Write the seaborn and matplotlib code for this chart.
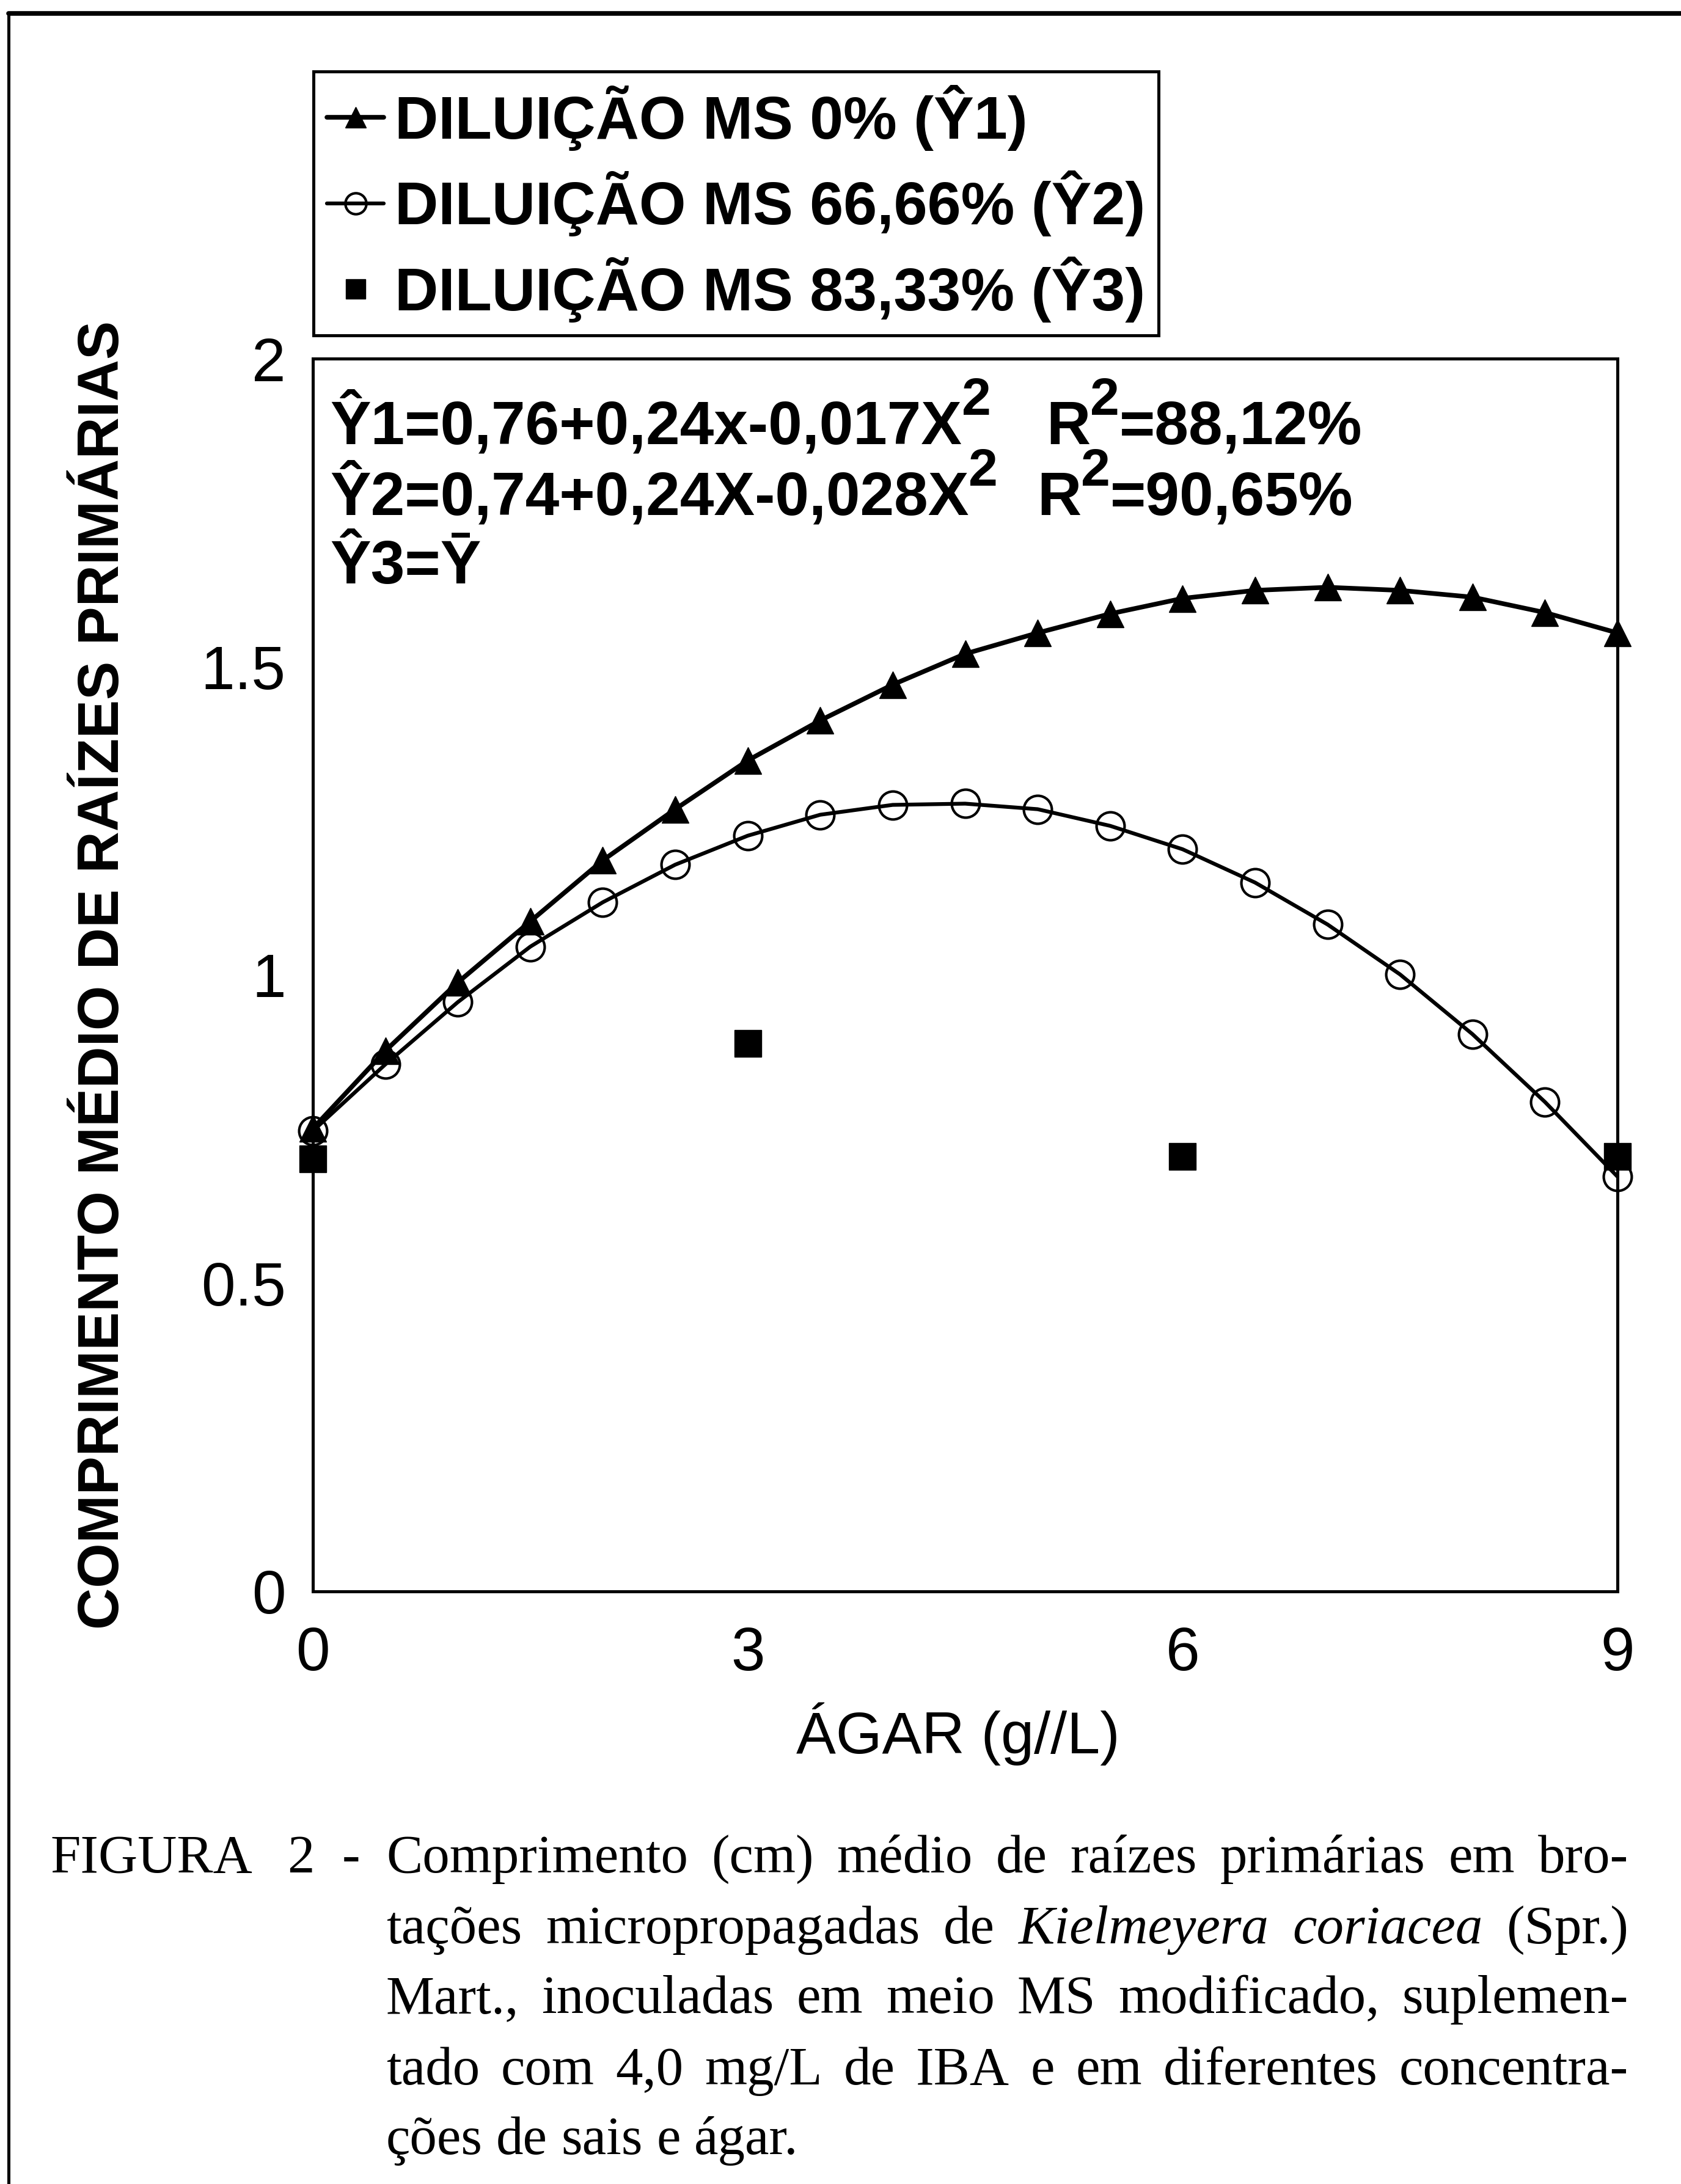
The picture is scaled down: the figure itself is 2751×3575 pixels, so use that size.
import numpy as np
import pandas as pd
import matplotlib
matplotlib.use("Agg")
import matplotlib.pyplot as plt
import matplotlib.transforms as mtransforms
from matplotlib.lines import Line2D
import seaborn as sns

# ---------------- data ----------------
agar = [0, 0.5, 1, 1.5, 2, 2.5, 3, 3.5, 4, 4.5, 5, 5.5, 6, 6.5, 7, 7.5, 8, 8.5, 9]
y1_ms0 = [0.751, 0.877, 0.988, 1.087, 1.186, 1.269, 1.348, 1.413, 1.471, 1.521,
          1.555, 1.586, 1.611, 1.624, 1.629, 1.624, 1.613, 1.588, 1.555]
y2_ms6666 = [0.747, 0.855, 0.956, 1.046, 1.118, 1.179, 1.226, 1.260, 1.276, 1.278,
             1.269, 1.242, 1.204, 1.150, 1.082, 1.001, 0.904, 0.794, 0.673]
agar_y3 = [0, 3, 6, 9]
y3_ms8333 = [0.702, 0.889, 0.706, 0.706]

series_labels = ["DILUIÇÃO MS 0% (Ŷ1)", "DILUIÇÃO MS 66,66% (Ŷ2)", "DILUIÇÃO MS 83,33% (Ŷ3)"]
xticks = [0, 3, 6, 9]
yticks = [0, 0.5, 1, 1.5, 2]
ytick_labels = ["0", "0.5", "1", "1.5", "2"]
xlabel = "ÁGAR (g//L)"
ylabel = "COMPRIMENTO MÉDIO DE RAÍZES PRIMÁRIAS"
# equation pieces: (text, is_superscript)
eq1 = [("Ŷ1=0,76+0,24x-0,017X", False), ("2", True)]
r1 = [("R", False), ("2", True), ("=88,12%", False)]
eq2 = [("Ŷ2=0,74+0,24X-0,028X", False), ("2", True)]
r2 = [("R", False), ("2", True), ("=90,65%", False)]
eq3 = [("Ŷ3=Ȳ", False)]

caption_prefix = ["FIGURA", "2", "-"]
caption_lines = [
    [("Comprimento", "normal"), ("(cm)", "normal"), ("médio", "normal"), ("de", "normal"),
     ("raízes", "normal"), ("primárias", "normal"), ("em", "normal"), ("bro-", "normal")],
    [("tações", "normal"), ("micropropagadas", "normal"), ("de", "normal"),
     ("Kielmeyera", "italic"), ("coriacea", "italic"), ("(Spr.)", "normal")],
    [("Mart.,", "normal"), ("inoculadas", "normal"), ("em", "normal"), ("meio", "normal"),
     ("MS", "normal"), ("modificado,", "normal"), ("suplemen-", "normal")],
    [("tado", "normal"), ("com", "normal"), ("4,0", "normal"), ("mg/L", "normal"), ("de", "normal"),
     ("IBA", "normal"), ("e", "normal"), ("em", "normal"), ("diferentes", "normal"),
     ("concentra-", "normal")],
    [("ções", "normal"), ("de", "normal"), ("sais", "normal"), ("e", "normal"), ("ágar.", "normal")],
]

# ---------------- style ----------------
sns.set_theme(style="white")
SANS = ["Liberation Sans", "DejaVu Sans"]
plt.rcParams["font.family"] = SANS
plt.rcParams["text.color"] = "black"

W, H, DPI = 2751, 3575, 100
fig = plt.figure(figsize=(W / DPI, H / DPI), dpi=DPI)
fig.patch.set_facecolor("white")
ident = mtransforms.IdentityTransform()
renderer = fig.canvas.get_renderer()

def pix(x, y):
    return x, H - y

# axes box in pixels: left 512, right 2647, top 587, bottom 2605
axL, axR, axT, axB = 512, 2647, 587, 2605
ax = fig.add_axes([axL / W, 1 - axB / H, (axR - axL) / W, (axB - axT) / H])
ax.set_facecolor("white")

df1 = pd.DataFrame({"agar": agar, "comp": y1_ms0})
df2 = pd.DataFrame({"agar": agar, "comp": y2_ms6666})
df3 = pd.DataFrame({"agar": agar_y3, "comp": y3_ms8333})

sns.lineplot(data=df1, x="agar", y="comp", ax=ax, color="black", lw=5.5,
             marker="^", markersize=32, markerfacecolor="black",
             markeredgecolor="black", markeredgewidth=1, clip_on=False,
             label=series_labels[0], zorder=3)
sns.lineplot(data=df2, x="agar", y="comp", ax=ax, color="black", lw=4.5,
             marker="o", markersize=33, markerfacecolor="none",
             markeredgecolor="black", markeredgewidth=3, clip_on=False,
             label=series_labels[1], zorder=3)
sns.lineplot(data=df3, x="agar", y="comp", ax=ax, color="black", lw=0,
             marker="s", markersize=31, markerfacecolor="black",
             markeredgecolor="black", markeredgewidth=1, clip_on=False,
             label=series_labels[2], zorder=4)

ax.set_xlim(0, 9)
ax.set_ylim(0, 2)
ax.set_xticks(xticks)
ax.set_xticklabels([str(t) for t in xticks])
ax.set_yticks(yticks)
ax.set_yticklabels(ytick_labels)
ax.tick_params(axis="both", length=0, labelsize=72, colors="black")
ax.tick_params(axis="y", pad=32)
ax.tick_params(axis="x", pad=40)
for s in ax.spines.values():
    s.set_visible(True)
    s.set_color("black")
    s.set_linewidth(3.6)
ax.grid(False)

ax.set_xlabel(xlabel, fontsize=70, color="black")
ax.xaxis.set_label_coords((1568 - axL) / (axR - axL), (axB - 2787) / (axB - axT))
ax.set_ylabel(ylabel, fontsize=68, color="black", fontweight="bold")
ax.yaxis.set_label_coords((214 - axL) / (axR - axL), 0.5)

# equations (superscripts drawn as raised, smaller text pieces)
EQFS = 72
EQPX = EQFS * DPI / 72.0

def draw_pieces(pieces, x, base):
    for txt, sup in pieces:
        fs = EQFS * 0.86 if sup else EQFS
        y = base - (0.48 * EQPX if sup else 0)
        t = fig.text(*pix(x, y), txt, transform=ident, fontsize=fs, fontweight="bold",
                     va="baseline", ha="left")
        x += t.get_window_extent(renderer).width

draw_pieces(eq1, 540, 727)
draw_pieces(r1, 1712, 727)
draw_pieces(eq2, 540, 843)
draw_pieces(r2, 1697, 843)
draw_pieces(eq3, 540, 955)

# legend
handles, labels = ax.get_legend_handles_labels()
if ax.get_legend() is not None:
    ax.get_legend().remove()
leg = fig.legend(handles, labels, loc="upper left",
                 bbox_to_anchor=(513 / W, 1 - 117 / H), bbox_transform=fig.transFigure,
                 prop={"size": 71, "weight": "bold"}, frameon=True, fancybox=False, shadow=False,
                 borderpad=0.22, labelspacing=0.33, handlelength=0.95,
                 handletextpad=0.18, borderaxespad=0, markerscale=0.75)
leg.get_frame().set_edgecolor("black")
leg.get_frame().set_linewidth(3.6)
leg.get_frame().set_facecolor("white")
leg.get_frame().set_alpha(1)

# outer scan frame (top and left borders)
fig.add_artist(Line2D([14 / W, 1.0], [1 - 22 / H, 1 - 22 / H], transform=fig.transFigure,
                      color="black", lw=5.5))
fig.add_artist(Line2D([14 / W, 14 / W], [1 - 22 / H, 0.0], transform=fig.transFigure,
                      color="black", lw=3.6))

# caption (justified, serif)
SERIF = ["Liberation Serif", "DejaVu Serif"]
CFS = 64

pref_x = [82, 470, 560]
for word, px in zip(caption_prefix, pref_x):
    fig.text(*pix(px, 3065), word, transform=ident, fontsize=CFS, family=SERIF,
             va="baseline", ha="left")

baselines = [3065, 3181, 3295, 3412, 3526]
x0, x1 = 632, 2665
for i, (words, base) in enumerate(zip(caption_lines, baselines)):
    texts = []
    for w, st in words:
        t = fig.text(*pix(x0, base), w, transform=ident, fontsize=CFS, family=SERIF,
                     style=st, va="baseline", ha="left")
        texts.append(t)
    widths = [t.get_window_extent(renderer).width for t in texts]
    if i < len(caption_lines) - 1 and len(texts) > 1:
        gap = (x1 - x0 - sum(widths)) / (len(texts) - 1)
    else:
        gap = CFS * DPI / 72 * 0.25
    x = x0
    for t, wd in zip(texts, widths):
        t.set_position(pix(x, base))
        x += wd + gap

fig.savefig("out.png", dpi=DPI, facecolor="white")
